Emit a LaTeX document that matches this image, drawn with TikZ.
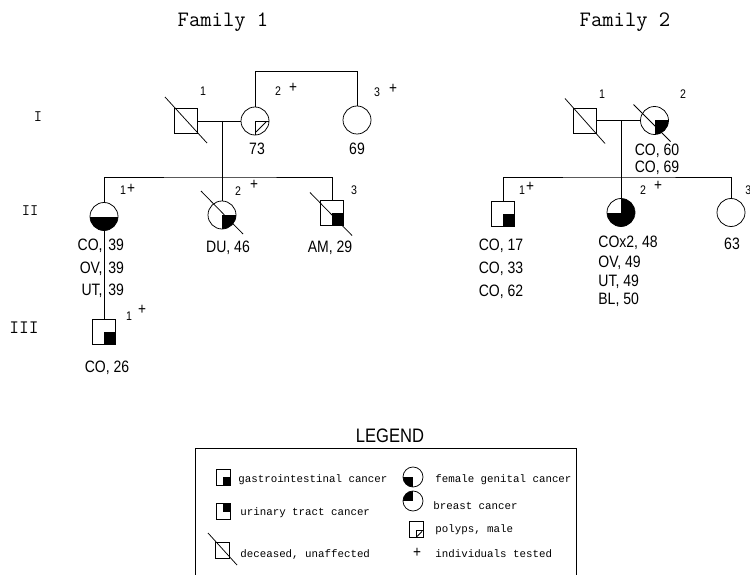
\documentclass[tikz,border=0pt]{standalone}
\usepackage{fontspec}
\newfontfamily\plotfont[FakeStretch=0.85]{Liberation Sans}
\newfontfamily\legfont{Liberation Mono}
\begin{document}
\begin{tikzpicture}[x=1pt,y=-1pt,line width=0.75pt,
  male/.style={draw, rectangle, minimum width=23pt, minimum height=25pt, inner sep=0pt},
  female/.style={draw, circle, minimum size=28pt, inner sep=0pt},
  lmale/.style={draw, rectangle, minimum width=14pt, minimum height=16pt, inner sep=0pt},
  lfemale/.style={draw, circle, minimum size=20pt, inner sep=0pt},
  fillLR/.style={path picture={\fill (path picture bounding box.center) rectangle (path picture bounding box.south east);}},
  fillLL/.style={path picture={\fill (path picture bounding box.center) rectangle (path picture bounding box.south west);}},
  fillUR/.style={path picture={\fill (path picture bounding box.center) rectangle (path picture bounding box.north east);}},
  fillUL/.style={path picture={\fill (path picture bounding box.center) rectangle (path picture bounding box.north west);}},
  fillLower/.style={path picture={\fill (path picture bounding box.west) rectangle (path picture bounding box.south east);}},
  fillThree/.style={path picture={\fill (path picture bounding box.south west) rectangle (path picture bounding box.east);
     \fill (path picture bounding box.center) rectangle (path picture bounding box.north east);}},
  polypc/.style={path picture={\draw (path picture bounding box.south) -- (path picture bounding box.center) -- (path picture bounding box.east);
     \draw ([shift={(11,1)}]path picture bounding box.center) -- ([shift={(1,11)}]path picture bounding box.center);}},
  polyps/.style={path picture={\draw ([shift={(0,1)}]path picture bounding box.center) rectangle (path picture bounding box.south east);
     \draw ([shift={(6,2)}]path picture bounding box.center) -- ([shift={(1,7)}]path picture bounding box.center);}},
  lbl/.style={font=\plotfont\fontsize{16.5}{18}\selectfont, inner sep=0pt, anchor=base},
  num/.style={font=\plotfont\fontsize{12.5}{14}\selectfont, inner sep=0pt, anchor=base},
  pls/.style={font=\plotfont\fontsize{16}{17}\selectfont, inner sep=0pt},
  leg/.style={font=\legfont\fontsize{10.8}{12}\selectfont, inner sep=0pt, anchor=base west},
  ttl/.style={font=\ttfamily\fontsize{22}{24}\selectfont, inner sep=0pt, anchor=base},
  gen/.style={font=\ttfamily\fontsize{16}{18}\selectfont, inner sep=0pt, anchor=base}
]
\useasboundingbox (0,0) rectangle (750,575);

% titles
\node[ttl] (t1) at (223,27) {Family 1};
\node[ttl] (t2) at (625,26.5) {Family 2};
\node[gen] (g1) at (38,122) {I};
\node[gen] (g2) at (30,215) {II};
\node[gen, font=\ttfamily\fontsize{19}{20}\selectfont] (g3) at (24,333) {III};

% Family 1
\node[male] (f1i1) at (186,121) {};
\node[female, polypc] (f1i2) at (255,121) {};
\node[female] (f1i3) at (357,120) {};
\node[female, fillLower] (f1ii1) at (104,216.5) {};
\node[female, fillLR] (f1ii2) at (222,215) {};
\node[male, fillLR] (f1ii3) at (332,212.5) {};
\node[male, fillLR] (f1iii1) at (104,331.5) {};

\draw ([shift={(-21,-24)}]f1i1.center) -- ([shift={(21,22)}]f1i1.center);
\draw ([shift={(-21,-24)}]f1ii2.center) -- ([shift={(21,19)}]f1ii2.center);
\draw ([shift={(-22,-20)}]f1ii3.center) -- ([shift={(20,23)}]f1ii3.center);

\coordinate (f1m) at (222,121);
\coordinate (f1s) at (222,177);
\draw (f1i1.east) -- (f1i2.west);
\draw (f1m) -- (f1s);
\draw (f1ii1.north) |- (f1s) -| (f1ii3.north);
\draw (f1s) -- (f1ii2.north);
\draw (f1ii1.south) -- (f1iii1.north);
\draw (f1i2.north) -- ++(0,-35) -| (f1i3.north);

\node[num] (n1) at (203,96) {1};
\node[num] (n2) at (278,96) {2};
\node[pls] (p2) at (293,88) {+};
\node[num] (n3) at (377,97) {3};
\node[pls] (p3) at (393,89) {+};
\node[lbl] (a73) at (257,154.5) {73};
\node[lbl] (a69) at (357,154.5) {69};

\node[num] (n4) at (123,194) {1};
\node[pls] (p4) at (131,189) {+};
\node[num] (n5) at (238,196) {2};
\node[pls] (p5) at (254,185) {+};
\node[num] (n6) at (354,195) {3};

\node[lbl, anchor=base east] (c1a) at (103,250) {CO,};
\node[lbl, anchor=base west] (c1b) at (108,250) {39};
\node[lbl, anchor=base east] (c2a) at (103,273) {OV,};
\node[lbl, anchor=base west] (c2b) at (108,273) {39};
\node[lbl, anchor=base east] (c3a) at (103,295) {UT,};
\node[lbl, anchor=base west] (c3b) at (108,295) {39};
\node[lbl] (du) at (228,252) {DU, 46};
\node[lbl] (am) at (330,252) {AM, 29};

\node[num] (n7) at (129,320) {1};
\node[pls] (p7) at (142,310) {+};
\node[lbl] (co26) at (107,372) {CO, 26};

% Family 2
\node[male] (f2i1) at (585,120.5) {};
\node[female, fillLR] (f2i2) at (654.5,120.5) {};
\node[male, fillLR] (f2ii1) at (503,213.5) {};
\node[female, fillThree] (f2ii2) at (621,212.5) {};
\node[female] (f2ii3) at (731,212.5) {};

\draw ([shift={(-20,-22)}]f2i1.center) -- ([shift={(20,23)}]f2i1.center);
\draw ([shift={(-21,-16)}]f2i2.center) -- ([shift={(16,21)}]f2i2.center);

\coordinate (f2m) at (621,120.5);
\coordinate (f2s) at (621,177);
\draw (f2i1.east) -- (f2i2.west);
\draw (f2m) -- (f2s);
\draw (f2ii1.north) |- (f2s) -| (f2ii3.north);
\draw (f2s) -- (f2ii2.north);

\node[num] (m1) at (602,99) {1};
\node[num] (m2) at (683,99) {2};
\node[lbl] (c60) at (657,156) {CO, 60};
\node[lbl] (c69) at (657,173) {CO, 69};
\node[num] (m3) at (522,194) {1};
\node[pls] (q3) at (530,187) {+};
\node[num] (m4) at (643,194) {2};
\node[pls] (q4) at (658,186) {+};
\node[num, anchor=base west] (m5) at (745,194) {3};

\node[lbl] (c17) at (501,250) {CO, 17};
\node[lbl] (c33) at (501,273) {CO, 33};
\node[lbl] (c62) at (501,296) {CO, 62};
\node[lbl, anchor=base west] (cx2) at (598,247) {COx2, 48};
\node[lbl, anchor=base west] (ov49) at (598,267) {OV, 49};
\node[lbl, anchor=base west] (ut49) at (598,286) {UT, 49};
\node[lbl, anchor=base west] (bl50) at (598,304) {BL, 50};
\node[lbl] (a63) at (732,249) {63};

% Legend
\node[lbl, font=\plotfont\fontsize{19.5}{21}\selectfont] (legt) at (390,442) {LEGEND};
\coordinate (lb1) at (195,576);
\coordinate (lb2) at (195,448);
\coordinate (lb3) at (576,448);
\coordinate (lb4) at (576,576);
\draw (lb1) -- (lb2) -- (lb3) -- (lb4);

\node[lmale, fillLR] (lg1) at (223,477) {};
\node[lmale, fillUR] (lg2) at (223,511.5) {};
\node[lmale] (lg3) at (222.5,550) {};
\draw ([shift={(-14.5,-17)}]lg3.center) -- ([shift={(14.5,15)}]lg3.center);
\node[lfemale, fillLL] (lg4) at (413,477) {};
\node[lfemale, fillUL] (lg5) at (413,501) {};
\node[lmale, polyps] (lg6) at (416,529.5) {};
\node[pls] (lg7) at (417,553) {+};

\node[leg] (lt1) at (238,482) {gastrointestinal cancer};
\node[leg] (lt2) at (240,515) {urinary tract cancer};
\node[leg] (lt3) at (240,557) {deceased, unaffected};
\node[leg] (lt4) at (435,482) {female genital cancer};
\node[leg] (lt5) at (433,509) {breast cancer};
\node[leg] (lt6) at (435,532) {polyps, male};
\node[leg] (lt7) at (435,557) {individuals tested};
\end{tikzpicture}
\end{document}
